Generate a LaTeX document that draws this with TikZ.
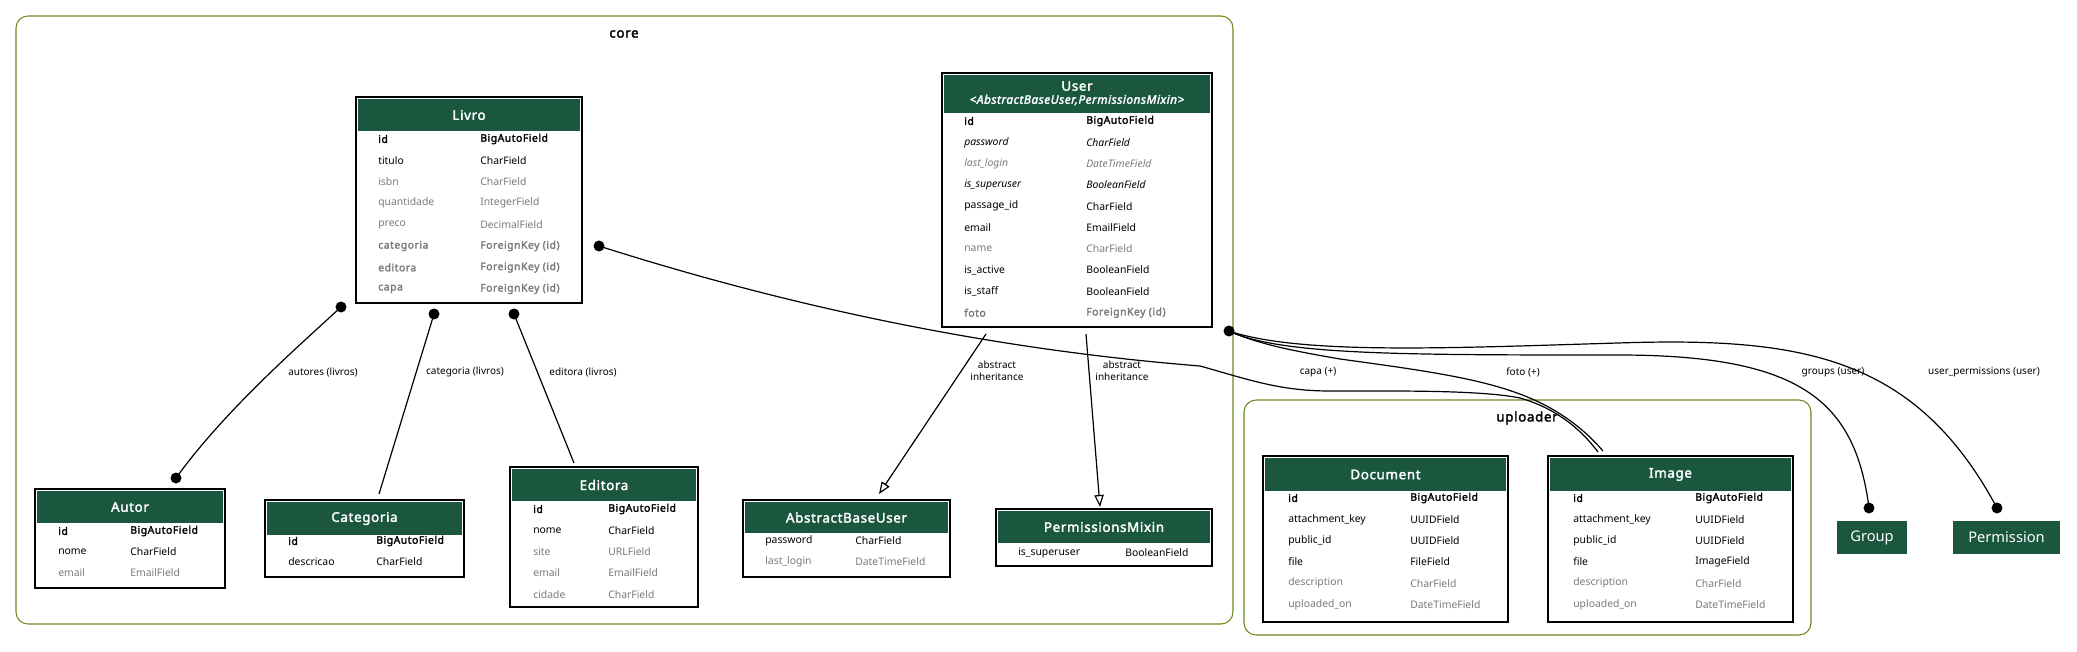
\documentclass[tikz,border=0pt]{standalone}
\usepackage{fontspec}
\setmainfont{Noto Sans}[BoldFont={Noto Sans}, BoldFeatures={FakeBold=2.2, LetterSpace=5}, ItalicFont={Noto Sans Italic}, BoldItalicFont={Noto Sans Italic}, BoldItalicFeatures={FakeBold=2.2, LetterSpace=4}]
\usetikzlibrary{arrows.meta,fit}
\definecolor{hdrgreen}{HTML}{1B563F}
\definecolor{clus}{HTML}{698B22}
\definecolor{fgray}{HTML}{7B7B7B}
\tikzset{
  fld/.style={anchor=west, inner sep=0pt, font=\fontsize{7.8}{9}\selectfont},
  fbf/.style={anchor=west, inner sep=0pt, font=\fontsize{7.8}{9}\selectfont\bfseries},
  fgr/.style={fld, text=fgray},
  fgb/.style={fbf, text=fgray},
  fita/.style={anchor=west, inner sep=0pt, font=\fontsize{7.8}{9}\selectfont\itshape},
  fitg/.style={fita, text=fgray},
  tbox/.style={draw=black, line width=1pt, inner sep=0pt, fill=white},
  hdrtxt/.style={text=white, font=\fontsize{10}{12}\selectfont\bfseries, inner sep=0pt, align=center},
  clusterbox/.style={draw=clus, line width=0.8pt, rounded corners=9pt, inner sep=0pt},
  clabel/.style={font=\fontsize{10}{12}\selectfont\bfseries, inner sep=0pt},
  elabel/.style={font=\fontsize{7.5}{9}\selectfont, inner sep=0pt, align=center},
  edge/.style={line width=0.9pt},
  extbox/.style={fill=hdrgreen, text=white, font=\fontsize{11}{13}\selectfont, inner sep=0pt},
}
\newcommand\mktable[7]{%
  \node[tbox, fit={(#2,#3) (#4,#5)}] (#1) {};
  \fill[hdrgreen] (#2+2,#3+2) rectangle (#4-2,#6);
  \node[hdrtxt] (#1-title) at ({(#2+#4)/2},{(#3+#6)/2+1}) {#7};
}
\newcommand\tfield[7]{%
  \node[#5] (#1n) at (#3,#2) {#6};
  \node[#5] (#1t) at (#4,#2) {#7};
}
\begin{document}
\begin{tikzpicture}[x=0.75pt, y=-0.75pt]
\useasboundingbox (0,0) rectangle (2077,652);
\fill[white] (0,0) rectangle (2077,652);

% clusters
\node[clusterbox, fit={(16,16) (1233,624)}] (core) {};
\node[clabel] (core-label) at (624,34) {core};
\node[clusterbox, fit={(1244,400) (1811,635)}] (uploader) {};
\node[clabel] (uploader-label) at (1527,418) {uploader};

% Livro
\mktable{livro}{356}{97}{582}{303}{131}{Livro}
\tfield{lv1}{139}{378}{480}{fbf}{id}{BigAutoField}
\tfield{lv2}{160.4}{378}{480}{fld}{titulo}{CharField}
\tfield{lv3}{181.8}{378}{480}{fgr}{isbn}{CharField}
\tfield{lv4}{203.2}{378}{480}{fgr}{quantidade}{IntegerField}
\tfield{lv5}{224.6}{378}{480}{fgr}{preco}{DecimalField}
\tfield{lv6}{246}{378}{480}{fgb}{categoria}{ForeignKey (id)}
\tfield{lv7}{267.4}{378}{480}{fgb}{editora}{ForeignKey (id)}
\tfield{lv8}{288.8}{378}{480}{fgb}{capa}{ForeignKey (id)}

% User
\node[tbox, fit={(942,73) (1212,327)}] (user) {};
\fill[hdrgreen] (944,75) rectangle (1210,113);
\node[hdrtxt] (user-title) at (1077,86) {User};
\node[hdrtxt, font=\fontsize{8.9}{11}\selectfont\bfseries\itshape] (user-sub) at (1077,100) {<AbstractBaseUser,PermissionsMixin>};
\tfield{us1}{121}{964}{1086}{fbf}{id}{BigAutoField}
\tfield{us2}{142.3}{964}{1086}{fita}{password}{CharField}
\tfield{us3}{163.6}{964}{1086}{fitg}{last\_login}{DateTimeField}
\tfield{us4}{184.9}{964}{1086}{fita}{is\_superuser}{BooleanField}
\tfield{us5}{206.2}{964}{1086}{fld}{passage\_id}{CharField}
\tfield{us6}{227.5}{964}{1086}{fld}{email}{EmailField}
\tfield{us7}{248.8}{964}{1086}{fgr}{name}{CharField}
\tfield{us8}{270.1}{964}{1086}{fld}{is\_active}{BooleanField}
\tfield{us9}{291.4}{964}{1086}{fld}{is\_staff}{BooleanField}
\tfield{us10}{312.7}{964}{1086}{fgb}{foto}{ForeignKey (id)}

% Autor
\mktable{autor}{35}{489}{225}{588}{523}{Autor}
\tfield{au1}{531}{58}{130}{fbf}{id}{BigAutoField}
\tfield{au2}{552}{58}{130}{fld}{nome}{CharField}
\tfield{au3}{573}{58}{130}{fgr}{email}{EmailField}

% Categoria
\mktable{categoria}{265}{500}{464}{577}{535}{Categoria}
\tfield{ca1}{541}{288}{376}{fbf}{id}{BigAutoField}
\tfield{ca2}{562}{288}{376}{fld}{descricao}{CharField}

% Editora
\mktable{editora}{510}{467}{698}{607}{501}{Editora}
\tfield{ed1}{509}{533}{608}{fbf}{id}{BigAutoField}
\tfield{ed2}{530.3}{533}{608}{fld}{nome}{CharField}
\tfield{ed3}{551.6}{533}{608}{fgr}{site}{URLField}
\tfield{ed4}{572.9}{533}{608}{fgr}{email}{EmailField}
\tfield{ed5}{594.2}{533}{608}{fgr}{cidade}{CharField}

% AbstractBaseUser
\mktable{abu}{743}{500}{950}{577}{533}{AbstractBaseUser}
\tfield{ab1}{541}{765}{855}{fld}{password}{CharField}
\tfield{ab2}{562}{765}{855}{fgr}{last\_login}{DateTimeField}

% PermissionsMixin
\mktable{pm}{996}{509}{1212}{566}{543}{PermissionsMixin}
\tfield{pm1}{553}{1018}{1125}{fld}{is\_superuser}{BooleanField}

% Document
\mktable{document}{1263}{456}{1508}{622}{491}{Document}
\tfield{do1}{498}{1288}{1410}{fbf}{id}{BigAutoField}
\tfield{do2}{519.3}{1288}{1410}{fld}{attachment\_key}{UUIDField}
\tfield{do3}{540.6}{1288}{1410}{fld}{public\_id}{UUIDField}
\tfield{do4}{561.9}{1288}{1410}{fld}{file}{FileField}
\tfield{do5}{583.2}{1288}{1410}{fgr}{description}{CharField}
\tfield{do6}{604.5}{1288}{1410}{fgr}{uploaded\_on}{DateTimeField}

% Image
\mktable{image}{1548}{456}{1793}{622}{491}{Image}
\tfield{im1}{498}{1573}{1695}{fbf}{id}{BigAutoField}
\tfield{im2}{519.3}{1573}{1695}{fld}{attachment\_key}{UUIDField}
\tfield{im3}{540.6}{1573}{1695}{fld}{public\_id}{UUIDField}
\tfield{im4}{561.9}{1573}{1695}{fld}{file}{ImageField}
\tfield{im5}{583.2}{1573}{1695}{fgr}{description}{CharField}
\tfield{im6}{604.5}{1573}{1695}{fgr}{uploaded\_on}{DateTimeField}

% external
\node[extbox, minimum width=52.5pt, minimum height=24.75pt] (group) at (1872,537.5) {Group};
\node[extbox, minimum width=80.25pt, minimum height=24.75pt] (permission) at (2006.5,537.5) {Permission};

% edge end points
\coordinate (eAutL) at (341,307);
\coordinate (eAutA) at (176,478);
\coordinate (eCatL) at (434,314);
\coordinate (eCatC) at (379,494);
\coordinate (eEdL) at (514,314);
\coordinate (eEdE) at (574,463);
\coordinate (eCapL) at (599,246);
\coordinate (eCapI) at (1598,452);
\coordinate (eUsr) at (1229,331);
\coordinate (eFotI) at (1603,451);
\coordinate (eGrp) at (1869,508);
\coordinate (ePerm) at (1997,508);
\coordinate (eAbsU) at (986,334);
\coordinate (eAbsA) at (879,494);
\coordinate (ePmU) at (1086,334);
\coordinate (ePmP) at (1100,507);

% edges
\draw[edge] (eAutL) .. controls (300,345) and (225,410) .. (eAutA);
\draw[edge] (eCatL) -- (eCatC);
\draw[edge] (eEdL) -- (eEdE);
\draw[edge] (eCapL) .. controls (800,310) and (1000,350) .. (1200,366)
  .. controls (1250,380) and (1280,391) .. (1330,391)
  .. controls (1400,391) and (1480,390) .. (1520,398)
  .. controls (1555,408) and (1580,428) .. (eCapI);
\draw[edge] (eUsr) .. controls (1260,345) and (1300,352) .. (1340,359)
  .. controls (1420,370) and (1480,378) .. (1525,396)
  .. controls (1560,410) and (1585,430) .. (eFotI);
\draw[edge] (eUsr) .. controls (1280,355) and (1400,355) .. (1618,355)
  .. controls (1800,355) and (1855,400) .. (eGrp);
\draw[edge] (eUsr) .. controls (1300,355) and (1450,348) .. (1618,343)
  .. controls (1800,337) and (1915,355) .. (ePerm);
\draw[edge, -{Triangle[open, length=9pt, width=7pt]}] (eAbsU) -- (eAbsA);
\draw[edge, -{Triangle[open, length=9pt, width=7pt]}] (ePmU) -- (ePmP);

\foreach \p in {eAutL,eAutA,eCatL,eEdL,eCapL,eUsr,eGrp,ePerm}
  \fill (\p) circle (5.5);

% labels
\node[elabel] (lAut) at (323,372) {autores (livros)};
\node[elabel] (lCat) at (465,372) {categoria (livros)};
\node[elabel] (lEd) at (583,372) {editora (livros)};
\node[elabel] (lCap) at (1318,372) {capa (+)};
\node[elabel] (lFot) at (1523,372) {foto (+)};
\node[elabel] (lGrp) at (1833,372) {groups (user)};
\node[elabel] (lPerm) at (1984,372) {user\_permissions (user)};
\node[elabel] (lAbs) at (997,371) {abstract\\inheritance};
\node[elabel] (lPm) at (1122,371) {abstract\\inheritance};
\end{tikzpicture}
\end{document}
